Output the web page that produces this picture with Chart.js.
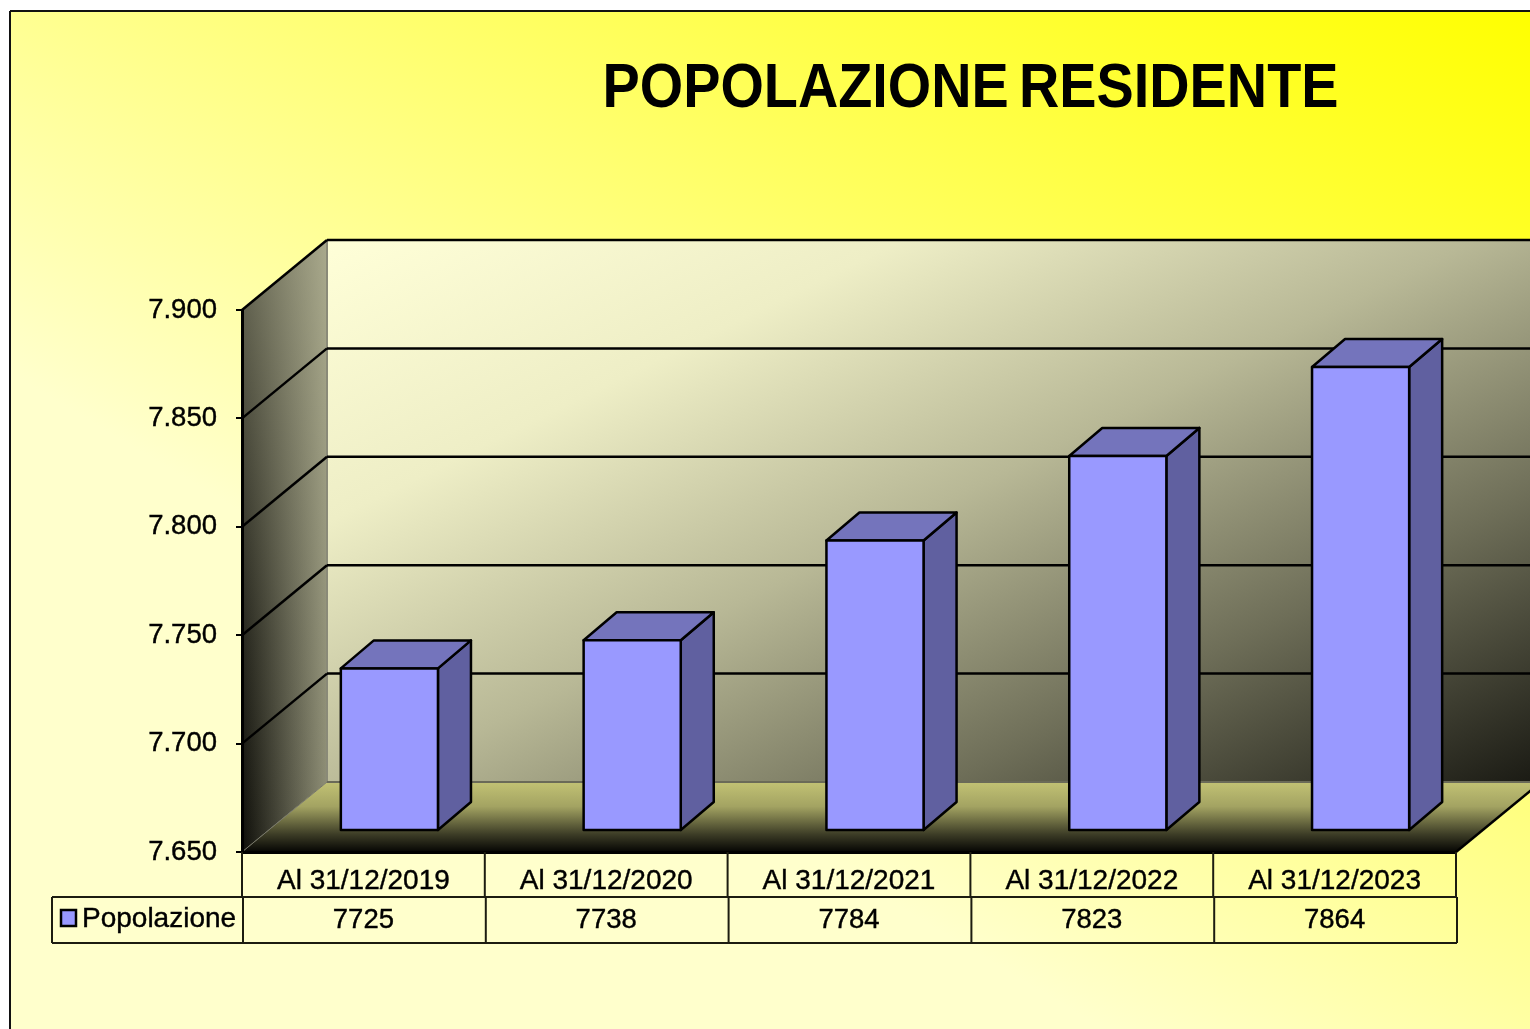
<!DOCTYPE html>
<html>
<head>
<meta charset="utf-8">
<style>
html,body{margin:0;padding:0;background:#fff;overflow:hidden}
canvas{display:block;filter:blur(0.55px)}
</style>
<script src="https://cdn.jsdelivr.net/npm/chart.js@4"></script>
</head>
<body>
<canvas id="c" width="1530" height="1029"></canvas>
<script>
const titleText = 'POPOLAZIONE RESIDENTE';
const categories = ['Al 31/12/2019','Al 31/12/2020','Al 31/12/2021','Al 31/12/2022','Al 31/12/2023'];
const seriesName = 'Popolazione';
const populationValues = [7725,7738,7784,7823,7864];
const yMin = 7650, yMax = 7900, yStep = 50;

const FONT = '"Liberation Sans", Arial, sans-serif';
const WALL = {dx:85, dy:-70};       // depth of the floor / side wall
const SHIFT = {dx:26, dy:-21};      // where the bars stand on the floor
const BAR = {dx:33, dy:-28, front:'#9999ff', top:'#7474bc', side:'#6060a0'};
const fmt = v => String(v).replace(/(\d)(\d{3})$/, '$1.$2');

function poly(ctx, pts, fill, stroke, lw){
  ctx.beginPath();
  pts.forEach((p,i)=> i ? ctx.lineTo(p[0],p[1]) : ctx.moveTo(p[0],p[1]));
  ctx.closePath();
  if(fill){ctx.fillStyle=fill;ctx.fill();}
  if(stroke){ctx.strokeStyle=stroke;ctx.lineWidth=lw||1;ctx.lineJoin='round';ctx.stroke();}
}
function line(ctx,x0,y0,x1,y1,c,w){
  ctx.beginPath();ctx.moveTo(x0,y0);ctx.lineTo(x1,y1);ctx.strokeStyle=c;ctx.lineWidth=w;ctx.stroke();
}

const scene = {
  id:'scene',
  beforeDraw(chart){
    const {ctx,chartArea:a,width,height} = chart;
    const y = chart.scales.y;
    ctx.save();
    ctx.fillStyle='#fff';ctx.fillRect(0,0,width,height);
    // page panel
    let g = ctx.createLinearGradient(1530,11,968,948);
    g.addColorStop(0,'#ffff00');g.addColorStop(1,'#ffffcc');
    ctx.fillStyle=g;ctx.fillRect(10,11,width,height);
    line(ctx,10,11,width,11,'#111',2);
    line(ctx,10,11,10,height,'#111',2);

    const top=a.top,bot=a.bottom,l=a.left,r=a.right;
    const bx=l+WALL.dx, bt=top+WALL.dy, bb=bot+WALL.dy, brx=r+WALL.dx;
    // back wall
    g = ctx.createLinearGradient(bx,bt,bx+447,bt+910);
    g.addColorStop(0,'#ffffd8');g.addColorStop(.25,'#eeeec6');g.addColorStop(.5,'#b8b896');
    g.addColorStop(.75,'#6e6e58');g.addColorStop(1,'#1c1c15');
    ctx.fillStyle=g;ctx.fillRect(bx,bt,brx-bx,bb-bt);
    // side wall: dark towards the front edge, lifted towards the top
    const side=[[l,top],[bx,bt],[bx,bb],[l,bot]];
    g = ctx.createLinearGradient(l,0,bx,0);
    g.addColorStop(0,'#0e0e09');g.addColorStop(1,'#8c8c74');
    poly(ctx,side,g);
    g = ctx.createLinearGradient(0,bot,0,bt);
    g.addColorStop(0,'rgba(200,200,165,0)');g.addColorStop(.35,'rgba(200,200,165,.13)');g.addColorStop(1,'rgba(200,200,165,.49)');
    poly(ctx,side,g);
    // floor
    g = ctx.createLinearGradient(0,bb,0,bot);
    g.addColorStop(0,'#c2c274');g.addColorStop(.35,'#a3a362');g.addColorStop(.75,'#3c3c26');g.addColorStop(1,'#050503');
    poly(ctx,[[l,bot],[r,bot],[brx,bb],[bx,bb]],g);
    // wall edges
    line(ctx,bx,bt,bx,bb,'#8a8a78',2);
    line(ctx,bx,bb,brx,bb,'#6a6a58',2);
    line(ctx,l,bot,bx,bb,'#77776a',1);
    // grid
    y.ticks.forEach(t=>{
      const p=y.getPixelForValue(t.value);
      if(t.value===yMin) return;
      line(ctx,l,p,bx,p+WALL.dy,'#000',2.5);
      line(ctx,bx,p+WALL.dy,brx,p+WALL.dy,'#000',2.5);
    });
    line(ctx,r,bot,brx,bb,'#000',2.5);
    ctx.restore();
  },
  beforeDatasetDraw(chart,args){
    const ctx=chart.ctx;
    ctx.save();
    ctx.translate(SHIFT.dx,SHIFT.dy);
    args.meta.data.forEach(b=>{
      const p=b.getProps(['x','y','base','width'],true);
      const x0=p.x-p.width/2,x1=p.x+p.width/2,yt=p.y,yb=p.base;
      poly(ctx,[[x1,yt],[x1+BAR.dx,yt+BAR.dy],[x1+BAR.dx,yb+BAR.dy],[x1,yb]],BAR.side,'#000',2.5);
      poly(ctx,[[x0,yt],[x0+BAR.dx,yt+BAR.dy],[x1+BAR.dx,yt+BAR.dy],[x1,yt]],BAR.top,'#000',2.5);
    });
  },
  afterDatasetDraw(chart,args){
    const ctx=chart.ctx;
    // outline centred on the edge of each library-drawn bar
    args.meta.data.forEach(b=>{
      const p=b.getProps(['x','y','base','width'],true);
      ctx.strokeStyle='#000';ctx.lineWidth=2.5;ctx.lineJoin='round';
      ctx.strokeRect(p.x-p.width/2,p.y,p.width,p.base-p.y);
    });
    ctx.restore();
  },
  afterDraw(chart){
    const {ctx,chartArea:a} = chart;
    const x=chart.scales.x, n=categories.length, w=x.width/n;
    const r0=a.bottom, r1=r0+45, r2=r1+46;
    ctx.save();
    const c='#1c1c10';
    // category row
    for(let i=0;i<=n;i++) line(ctx,x.left+i*w,r0,x.left+i*w,r1,c,2);
    // value row with legend key
    const lx=52;
    line(ctx,lx,r1,x.right+1,r1,c,2);
    line(ctx,lx,r2,x.right+1,r2,c,2);
    line(ctx,lx,r1,lx,r2,c,2);
    for(let i=0;i<=n;i++) line(ctx,x.left+1+i*w,r1,x.left+1+i*w,r2,c,2);
    ctx.fillStyle='#000';ctx.strokeStyle='#000';ctx.lineWidth=0.4;
    ctx.font='27.5px '+FONT;
    ctx.textBaseline='middle';
    ctx.textAlign='center';
    populationValues.forEach((v,i)=>{
      const tx=x.left+(i+.5)*w, ty=r1+23;
      ctx.fillText(String(v),tx,ty);ctx.strokeText(String(v),tx,ty);
    });
    ctx.textAlign='left';
    ctx.font='28px '+FONT;
    ctx.fillText(seriesName,82,r1+22);ctx.strokeText(seriesName,82,r1+22);
    ctx.fillStyle=BAR.front;ctx.lineWidth=2.5;
    ctx.fillRect(61,r1+13,15,16);ctx.strokeRect(61,r1+13,15,16);
    // title
    ctx.fillStyle='#000';
    ctx.font='bold 63px '+FONT;
    ctx.wordSpacing='-6px';
    ctx.textAlign='center';ctx.textBaseline='alphabetic';
    ctx.fillText(titleText,970.5,106.5,736);
    ctx.wordSpacing='0px';
    ctx.restore();
  }
};

new Chart(document.getElementById('c'),{
  type:'bar',
  data:{
    labels:categories,
    datasets:[{
      label:seriesName,
      data:populationValues,
      base:yMin,
      backgroundColor:BAR.front,
      borderWidth:0,
      borderSkipped:false,
      categoryPercentage:1,
      barPercentage:0.4,
      clip:false
    }]
  },
  options:{
    responsive:false,
    animation:false,
    events:[],
    layout:{padding:{left:0,top:310,right:74,bottom:0}},
    plugins:{legend:{display:false},tooltip:{enabled:false},title:{display:false}},
    scales:{
      x:{
        afterFit(s){s.height=177;},
        grid:{display:true,drawOnChartArea:false,drawTicks:false,color:'#000'},
        border:{display:true,color:'#000',width:3},
        ticks:{color:'#000',font:{family:FONT,size:28},padding:12,maxRotation:0,autoSkip:false,textStrokeColor:'#000',textStrokeWidth:0.4}
      },
      y:{
        min:yMin,max:yMax,
        afterFit(s){s.width=242;},
        grid:{display:true,drawOnChartArea:false,drawTicks:true,tickLength:6,color:'#000',lineWidth:2},
        border:{display:true,color:'#000',width:3},
        ticks:{stepSize:yStep,color:'#000',font:{family:FONT,size:27.5},padding:19,labelOffset:0,textStrokeColor:'#000',textStrokeWidth:0.4,callback:fmt}
      }
    }
  },
  plugins:[scene]
});
</script>
</body>
</html>
